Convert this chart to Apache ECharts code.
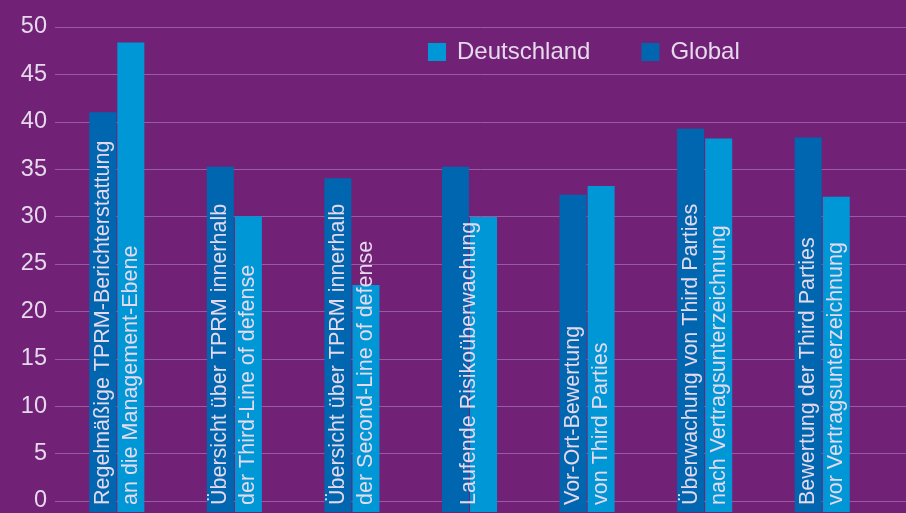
<!DOCTYPE html>
<html>
<head>
<meta charset="utf-8">
<script src="https://cdn.jsdelivr.net/npm/echarts@6/dist/echarts.min.js"></script>
<style>
html,body{margin:0;padding:0;background:#712277;}
#chart{width:906px;height:513px;}
</style>
</head>
<body>
<div id="chart"></div>
<script>
// Kategorien (Text in den Balken: Zeile 1 im Global-Balken, Zeile 2 im Deutschland-Balken)
var categories = [
	'Regelmäßige TPRM-Berichterstattung an die Management-Ebene',
	'Übersicht über TPRM innerhalb der Third-Line of defense',
	'Übersicht über TPRM innerhalb der Second-Line of defense',
	'Laufende Risikoüberwachung',
	'Vor-Ort-Bewertung von Third Parties',
	'Überwachung von Third Parties nach Vertragsunterzeichnung',
	'Bewertung der Third Parties vor Vertragsunterzeichnung'
];
var labelLine1 = [
	'Regelmäßige TPRM-Berichterstattung',
	'Übersicht über TPRM innerhalb',
	'Übersicht über TPRM innerhalb',
	'Laufende Risikoüberwachung',
	'Vor-Ort-Bewertung',
	'Überwachung von Third Parties',
	'Bewertung der Third Parties'
];
var labelLine2 = [
	'an die Management-Ebene',
	'der Third-Line of defense',
	'der Second-Line of defense',
	'',
	'von Third Parties',
	'nach Vertragsunterzeichnung',
	'vor Vertragsunterzeichnung'
];
var globalValues = [41.2, 35.6, 34.4, 35.6, 32.7, 39.5, 38.6];
var deutschlandValues = [48.4, 30.5, 23.4, 30.4, 33.6, 38.5, 32.5];
var yMin = 0, yMax = 50, yStep = 5;

var textColor = '#e6d9ec';
var font = 'Liberation Sans';

var barLabel = {
	show: true,
	position: 'insideBottom',
	distance: 7,
	rotate: 90,
	align: 'left',
	verticalAlign: 'middle',
	color: textColor,
	fontFamily: font,
	fontSize: 21.5
};

// Global-Balken; einzeilige Beschriftung mittig über beide Balken
// (offset gilt im gedrehten System: y = nach rechts)
var globalData = globalValues.map(function(v, i){
	if (labelLine2[i] === '') {
		return {value: v, label: {offset: [0, 14]}};
	}
	return v;
});

var myChart = echarts.init(document.getElementById('chart'));
var option = {
	backgroundColor: '#712277',
	animation: false,
	legend: {
		data: ['Deutschland', 'Global'],
		left: 423,
		top: 35,
		itemWidth: 18,
		itemHeight: 18,
		itemGap: 51,
		icon: 'rect',
		textStyle: {color: textColor, fontFamily: font, fontSize: 24, padding: [0, 0, 0, 6]}
	},
	grid: [
		{left: 55, right: 0, top: 27, bottom: 1},
		{left: 58, right: 25, top: 27, bottom: 1}
	],
	xAxis: [
		{type: 'value', gridIndex: 0, show: false, min: 0, max: 1},
		{
			type: 'category',
			gridIndex: 1,
			data: categories,
			axisLine: {show: false},
			axisTick: {show: false},
			axisLabel: {show: false}
		}
	],
	yAxis: [
		{
			type: 'value',
			gridIndex: 0,
			min: yMin,
			max: yMax,
			interval: yStep,
			axisLine: {show: false},
			axisTick: {show: false},
			axisLabel: {
				color: textColor,
				fontFamily: font,
				fontSize: 23.5,
				margin: 8,
				padding: [0, 0, 16, 0]
			},
			splitLine: {lineStyle: {color: '#9a5aa2', width: 1}}
		},
		{
			type: 'value',
			gridIndex: 1,
			min: yMin,
			max: yMax,
			interval: yStep,
			show: false,
			splitLine: {show: false}
		}
	],
	series: [
		{
			name: 'Global',
			type: 'bar',
			xAxisIndex: 1,
			yAxisIndex: 1,
			barWidth: 27,
			barGap: '4%',
			itemStyle: {color: '#0066b0'},
			label: Object.assign({}, barLabel, {
				formatter: function(p){ return labelLine1[p.dataIndex]; }
			}),
			data: globalData
		},
		{
			name: 'Deutschland',
			type: 'bar',
			xAxisIndex: 1,
			yAxisIndex: 1,
			barWidth: 27,
			itemStyle: {color: '#0097d7'},
			label: Object.assign({}, barLabel, {
				formatter: function(p){ return labelLine2[p.dataIndex]; }
			}),
			data: deutschlandValues
		}
	]
};
myChart.setOption(option);
</script>
</body>
</html>
